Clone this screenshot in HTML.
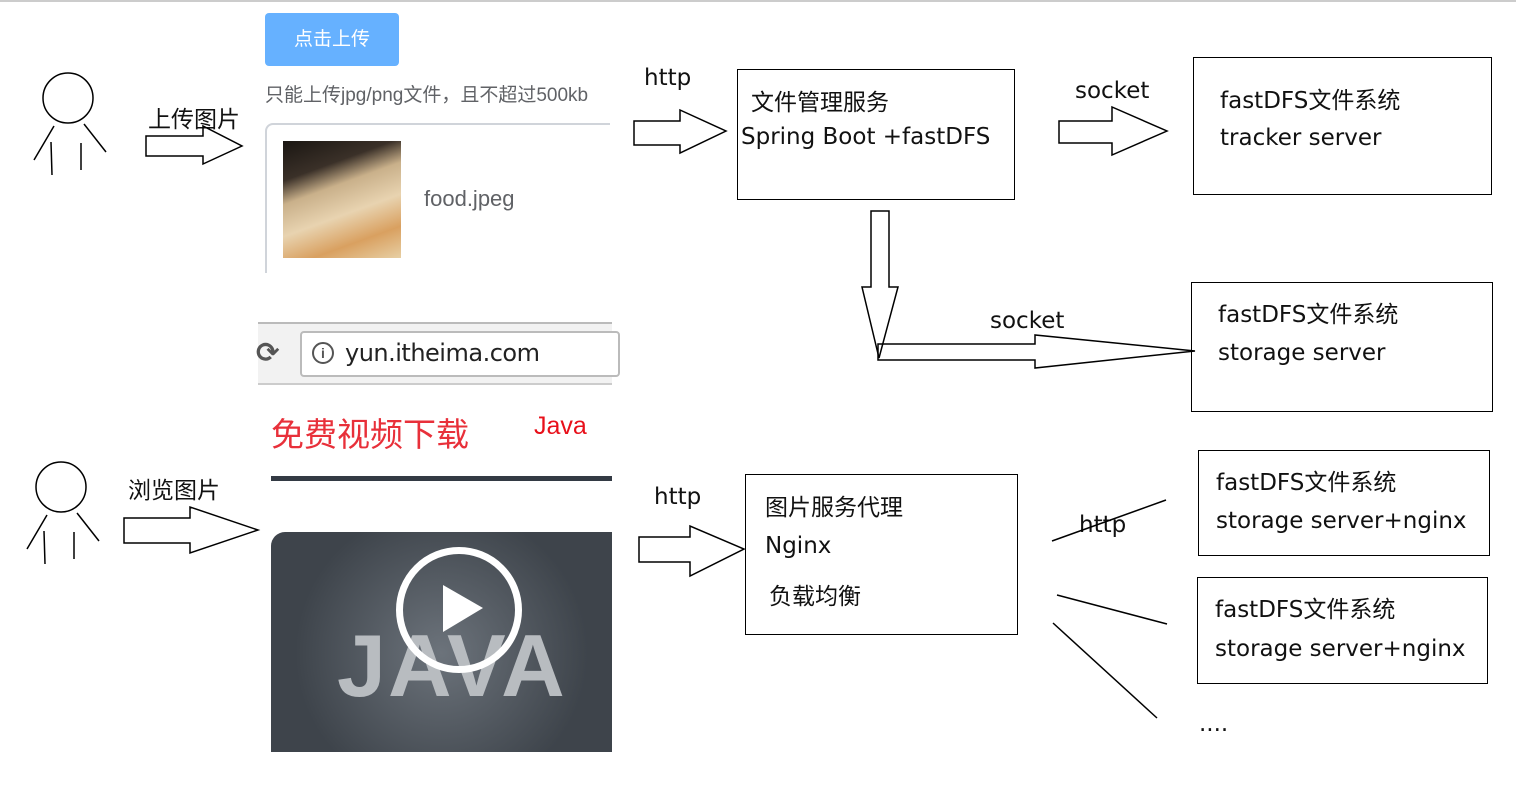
<!DOCTYPE html>
<html><head><meta charset="utf-8"><style>
body{margin:0;width:1516px;height:788px;background:#fff;position:relative;overflow:hidden;font-family:"Liberation Sans","Noto Sans CJK SC",sans-serif;}
.a{position:absolute;white-space:nowrap;}
.box{position:absolute;border:1.5px solid #000;box-sizing:border-box;}
.t{font-size:23px;color:#111;font-family:"DejaVu Sans","Noto Sans CJK SC",sans-serif;}
</style></head><body>
<div class="a" style="left:0;top:0;width:1516px;height:2px;background:#ccc"></div>
<div class="a" style="left:265px;top:13px;width:134px;height:53px;background:#66b1ff;border-radius:4px;color:#fff;font-size:19px;line-height:53px;text-align:center">点击上传</div>
<div class="a" style="left:265px;top:80px;font-size:19px;color:#606266">只能上传jpg/png文件，且不超过500kb</div>
<div class="a" style="left:265px;top:123px;width:345px;height:150px;border:2px solid #d0d4da;border-radius:8px 0 0 0;box-sizing:border-box;border-right:none;border-bottom:none"></div>
<div class="a" style="left:283px;top:141px;width:118px;height:117px;background:linear-gradient(160deg,#1a1612 0%,#3a3028 25%,#c9b08a 40%,#e8d3b0 60%,#d9a060 80%,#e7cfa4 100%)"></div>
<div class="a" style="left:424px;top:186px;font-size:22px;color:#606266">food.jpeg</div>
<div class="a" style="left:258px;top:322px;width:354px;height:63px;background:#f2f2f2;border-top:2px solid #bbb;border-bottom:2px solid #ccc;box-sizing:border-box"></div>
<div class="a" style="left:256px;top:336px;font-size:28px;color:#555;font-weight:bold;font-family:'DejaVu Sans',sans-serif">⟳</div>
<div class="a" style="left:300px;top:331px;width:320px;height:46px;background:#fff;border:2px solid #bbb;border-radius:4px;box-sizing:border-box"></div>
<div class="a" style="left:312px;top:342px;width:18px;height:18px;border:2px solid #555;border-radius:50%;font-size:14px;line-height:18px;text-align:center;font-weight:bold;color:#555">i</div>
<div class="a" style="left:345px;top:339px;font-size:24px;color:#222;font-family:'DejaVu Sans',sans-serif;letter-spacing:-0.5px">yun.itheima.com</div>
<div class="a" style="left:271px;top:408px;font-size:33px;color:#e8303a">免费视频下载</div>
<div class="a" style="left:534px;top:412px;font-size:25px;color:#e8101a">Java</div>
<div class="a" style="left:271px;top:476px;width:341px;height:5px;background:#333a44"></div>
<div class="a" style="left:271px;top:532px;width:341px;height:220px;background:radial-gradient(circle at 50% 55%,#6c737b,#3e444b 70%);border-radius:14px 0 0 0"></div>
<div class="a" style="left:337px;top:615px;font-size:88px;color:#b8bcc0;font-weight:bold;letter-spacing:2px">JAVA</div>
<div class="a" style="left:396px;top:547px;width:112px;height:112px;border:7px solid #fff;border-radius:50%"></div>
<div class="box" style="left:737px;top:69px;width:278px;height:131px"></div>
<div class="a t" style="left:751px;top:83px">文件管理服务</div>
<div class="a t" style="left:741px;top:124px">Spring Boot +fastDFS</div>
<div class="box" style="left:1193px;top:57px;width:299px;height:138px"></div>
<div class="a t" style="left:1220px;top:81px">fastDFS文件系统</div>
<div class="a t" style="left:1220px;top:125px">tracker server</div>
<div class="box" style="left:1191px;top:282px;width:302px;height:130px"></div>
<div class="a t" style="left:1218px;top:295px">fastDFS文件系统</div>
<div class="a t" style="left:1218px;top:340px">storage server</div>
<div class="box" style="left:745px;top:474px;width:273px;height:161px"></div>
<div class="a t" style="left:765px;top:488px">图片服务代理</div>
<div class="a t" style="left:765px;top:533px">Nginx</div>
<div class="a t" style="left:769px;top:577px">负载均衡</div>
<div class="box" style="left:1198px;top:450px;width:292px;height:106px"></div>
<div class="a t" style="left:1216px;top:463px">fastDFS文件系统</div>
<div class="a t" style="left:1216px;top:508px">storage server+nginx</div>
<div class="box" style="left:1197px;top:577px;width:291px;height:107px"></div>
<div class="a t" style="left:1215px;top:590px">fastDFS文件系统</div>
<div class="a t" style="left:1215px;top:636px">storage server+nginx</div>
<div class="a t" style="left:1199px;top:711px">....</div>
<div class="a t" style="left:148px;top:100px">上传图片</div>
<div class="a t" style="left:128px;top:471px">浏览图片</div>
<div class="a t" style="left:644px;top:65px">http</div>
<div class="a t" style="left:654px;top:484px">http</div>
<div class="a t" style="left:1075px;top:78px">socket</div>
<div class="a t" style="left:990px;top:308px">socket</div>
<div class="a t" style="left:1079px;top:512px">http</div>
<svg class="a" style="left:0;top:0" width="1516" height="788" fill="none" stroke="#000" stroke-width="1.5">
<circle cx="68" cy="98" r="25"/>
<line x1="54" y1="126" x2="34" y2="160"/><line x1="51" y1="142" x2="52" y2="175"/><line x1="81" y1="143" x2="81" y2="170"/><line x1="84" y1="124" x2="106" y2="152"/>
<circle cx="61" cy="487" r="25"/>
<line x1="47" y1="515" x2="27" y2="549"/><line x1="44" y1="531" x2="45" y2="564"/><line x1="74" y1="532" x2="74" y2="559"/><line x1="77" y1="513" x2="99" y2="541"/>
<polygon points="146,136 203,136 203,126 242,146 203,164 203,156 146,156"/>
<polygon points="634,121 680,121 680,110 726,131 680,153 680,145 634,145"/>
<polygon points="1059,121 1112,121 1112,107 1167,131 1112,155 1112,143 1059,143"/>
<polygon points="871,211 889,211 889,287 898,287 879,358 862,287 871,287"/>
<polygon points="878,344 1035,344 1035,335 1195,351 1035,368 1035,360 878,360"/>
<polygon points="124,518 190,518 190,507 258,530 190,553 190,543 124,543"/>
<polygon points="639,537 690,537 690,526 744,549 690,576 690,562 639,562"/>
<line x1="1052" y1="541" x2="1166" y2="500"/>
<line x1="1057" y1="595" x2="1167" y2="624"/>
<line x1="1053" y1="623" x2="1157" y2="718"/>
<polygon points="443,585 443,632 483,608" fill="#fff" stroke="none"/>
</svg>
</body></html>
